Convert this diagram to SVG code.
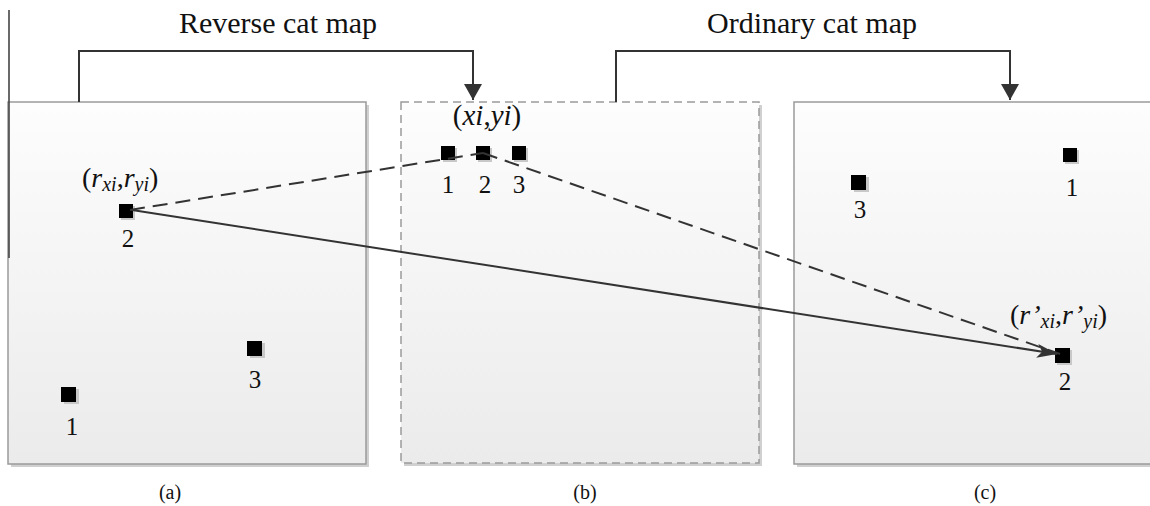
<svg xmlns="http://www.w3.org/2000/svg" width="1150" height="506" viewBox="0 0 1150 506">
<defs>
<linearGradient id="bg" x1="0" y1="0" x2="0" y2="1">
<stop offset="0" stop-color="#fdfdfd"/>
<stop offset="1" stop-color="#ebebeb"/>
</linearGradient>
<marker id="ah" viewBox="0 0 20 14" refX="20" refY="7" markerWidth="20" markerHeight="14" markerUnits="userSpaceOnUse" orient="auto">
<path d="M0,0 L20,7 L0,14 L5,7 Z" fill="#333"/>
</marker>
<marker id="ahb" viewBox="0 0 16 18" refX="16" refY="9" markerWidth="16" markerHeight="18" markerUnits="userSpaceOnUse" orient="auto">
<path d="M0,0 L16,9 L0,18 Z" fill="#333"/>
</marker>
</defs>
<style>
.box{fill:url(#bg);stroke:#9a9a9a;stroke-width:1.5}
.shadow{fill:#d0d0d0}
.sq{fill:#000}
.sqs{fill:#c8c8c8}
text{font-family:'Liberation Serif','Times New Roman',serif;fill:#111}
.lbl{font-size:25px}
.cap{font-size:20px}
.title{font-size:30px}
.conn{fill:none;stroke:#333;stroke-width:2}
.dash{stroke-dasharray:15,8}
</style>

<g id="bracket-reverse">
<text class="title" x="278" y="33" text-anchor="middle">Reverse cat map</text>
</g>
<g id="bracket-ordinary">
<text class="title" x="812" y="33" text-anchor="middle">Ordinary cat map</text>
</g>

<g id="panel-a">
<rect class="shadow" x="11" y="105" width="358" height="362"/>
<rect class="box" x="8" y="102" width="358" height="362"/>
<line x1="9" y1="10" x2="9" y2="258" stroke="#444" stroke-width="1.6"/>
<g id="a-pt2">
<rect class="sqs" x="121" y="206" width="14" height="14"/>
<rect class="sq" x="119" y="204" width="14" height="14"/>
<text class="lbl" x="128" y="247" text-anchor="middle">2</text>
</g>
<text x="82" y="187" font-size="28">(<tspan font-style="italic">r</tspan><tspan font-style="italic" font-size="20" dy="4">xi</tspan><tspan dy="-4">,</tspan><tspan font-style="italic">r</tspan><tspan font-style="italic" font-size="20" dy="4">yi</tspan><tspan dy="-4">)</tspan></text>
<g id="a-pt1">
<rect class="sqs" x="64" y="389" width="15" height="15"/>
<rect class="sq" x="61" y="387" width="15" height="15"/>
<text class="lbl" x="72" y="435" text-anchor="middle">1</text>
</g>
<g id="a-pt3">
<rect class="sqs" x="250" y="343" width="15" height="15"/>
<rect class="sq" x="247" y="341" width="15" height="15"/>
<text class="lbl" x="255" y="388" text-anchor="middle">3</text>
</g>
<text class="cap" x="170" y="499" text-anchor="middle">(a)</text>
</g>

<g id="panel-b">
<rect class="shadow" x="404" y="105" width="358" height="361"/>
<rect class="box" x="401" y="102" width="358" height="361" stroke-dasharray="8,5"/>
<text x="487" y="125" font-size="29" text-anchor="middle">(<tspan font-style="italic">xi</tspan>,<tspan font-style="italic">yi</tspan>)</text>
<g id="b-pt1">
<rect class="sqs" x="443" y="148" width="14" height="14"/>
<rect class="sq" x="441" y="146" width="14" height="14"/>
<text class="lbl" x="448" y="193" text-anchor="middle">1</text>
</g>
<g id="b-pt2">
<rect class="sqs" x="478" y="148" width="14" height="14"/>
<rect class="sq" x="476" y="146" width="14" height="14"/>
<text class="lbl" x="485" y="193" text-anchor="middle">2</text>
</g>
<g id="b-pt3">
<rect class="sqs" x="514" y="148" width="14" height="14"/>
<rect class="sq" x="512" y="146" width="14" height="14"/>
<text class="lbl" x="519" y="193" text-anchor="middle">3</text>
</g>
<text class="cap" x="585" y="499" text-anchor="middle">(b)</text>
</g>

<g id="panel-c">
<rect class="shadow" x="797" y="105" width="370" height="362"/>
<rect class="box" x="794" y="102" width="370" height="362"/>
<g id="c-pt3">
<rect class="sqs" x="854" y="177" width="15" height="15"/>
<rect class="sq" x="851" y="175" width="15" height="15"/>
<text class="lbl" x="860" y="218" text-anchor="middle">3</text>
</g>
<g id="c-pt1">
<rect class="sqs" x="1065" y="150" width="14" height="14"/>
<rect class="sq" x="1063" y="148" width="14" height="14"/>
<text class="lbl" x="1072" y="196" text-anchor="middle">1</text>
</g>
<g id="c-pt2">
<rect class="sqs" x="1057" y="350" width="15" height="15"/>
<rect class="sq" x="1055" y="348" width="15" height="15"/>
<text class="lbl" x="1065" y="390" text-anchor="middle">2</text>
</g>
<text x="1010" y="324" font-size="28">(<tspan font-style="italic">r’</tspan><tspan font-style="italic" font-size="20" dy="4">xi</tspan><tspan dy="-4">,</tspan><tspan font-style="italic">r’</tspan><tspan font-style="italic" font-size="20" dy="4">yi</tspan><tspan dy="-4">)</tspan></text>
<text class="cap" x="985" y="499" text-anchor="middle">(c)</text>
</g>

<g id="connectors">
<polyline class="conn" points="79,102 79,51 473,51 473,100" marker-end="url(#ahb)"/>
<polyline class="conn" points="616,102 616,51 1010,51 1010,100" marker-end="url(#ahb)"/>
<line class="conn dash" x1="130" y1="210" x2="483" y2="153"/>
<line class="conn dash" x1="483" y1="153" x2="1060" y2="354"/>
<line class="conn" x1="132" y1="210" x2="1057" y2="354" marker-end="url(#ah)"/>
</g>
</svg>
